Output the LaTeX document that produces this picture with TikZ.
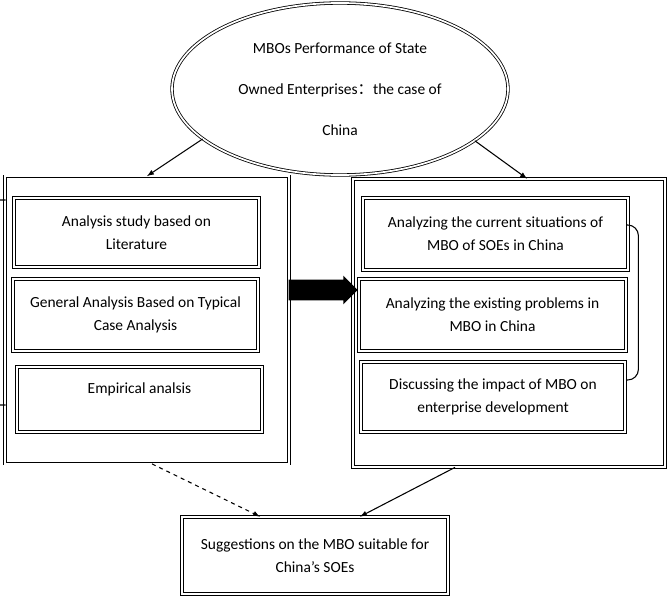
\documentclass[tikz,border=0pt]{standalone}
\usepackage{fontspec}
\setmainfont{Carlito}
\newfontfamily\cjk{Noto Sans CJK SC}
\usepackage{tikz}
\usetikzlibrary{calc,shapes.geometric,shapes.arrows}
\tikzset{dbox/.style={draw, double, double distance=1.3pt, line width=0.6pt,
         align=center, inner sep=0pt},
         outerbox/.style={dbox, double distance=1.5pt},
         link/.style={thick, -latex}}

\begin{document}
\begin{tikzpicture}[x=0.75pt,y=-0.75pt,font=\fontsize{11.6}{17.25}\selectfont]
\useasboundingbox (0,0) rectangle (667,606);

\node [dbox, ellipse, minimum width=252pt, minimum height=129pt,
       font=\fontsize{11.6}{30.75}\selectfont] (top) at (340,89)
      {MBOs Performance of State\\Owned Enterprises{\cjk ：}the case of\\China};

\node [outerbox, minimum width=213pt, minimum height=215.25pt] (leftbox) at (147,320) {};
\node [dbox, minimum width=183.75pt, minimum height=51.75pt] (lit) at (136.5,232.5)
      {Analysis study based on\\Literature};
\node [dbox, minimum width=183.75pt, minimum height=54pt] (case) at (135.5,315)
      {General Analysis Based on Typical\\Case Analysis};
\node [dbox, minimum width=183.75pt, minimum height=48.75pt] (emp) at (139.5,399.5)
      {Empirical analsis\\\mbox{}};

\node [outerbox, minimum width=234pt, minimum height=216pt] (rightbox) at (509,323) {};
\node [dbox, minimum width=198.75pt, minimum height=54pt] (situ) at (495.5,234)
      {Analyzing the current situations of\\MBO of SOEs in China};
\node [dbox, minimum width=200.25pt, minimum height=54pt] (prob) at (492.5,315)
      {Analyzing the existing problems in\\MBO in China};
\node [dbox, minimum width=198pt, minimum height=52.5pt] (impact) at (493,397)
      {Discussing the impact of MBO on\\enterprise development};

\node [dbox, minimum width=199.5pt, minimum height=57.75pt] (sugg) at (315,555.5)
      {Suggestions on the MBO suitable for\\China's SOEs};

% big arrow between the two groups
\node [single arrow, fill=black, inner xsep=0pt, inner ysep=7.5pt,
       minimum height=51.75pt, single arrow head extend=3pt] (big) at (318,290) {};

\draw [link] (top.200.7) -- (leftbox.north);
\draw [link] (top.339) -- ($(rightbox.north)+(18,0)$);
\draw [link, dashed] ($(leftbox.south)+(5,0)$) -- ($(sugg.north)+(-55,0)$);
\draw [link] ($(rightbox.south)+(-54,0)$) -- ($(sugg.north)+(45,0)$);

% brackets
\draw [thick, rounded corners=8] ($(situ.east)+(-2,-9)$) -- ++(12,0) |- ($(impact.east)+(1,-17)$);
\draw [thick, rounded corners=8] ($(leftbox.west)+(1,-120)$) -- ++(-16,0) |- ($(leftbox.west)+(1,85)$);

\end{tikzpicture}
\end{document}
